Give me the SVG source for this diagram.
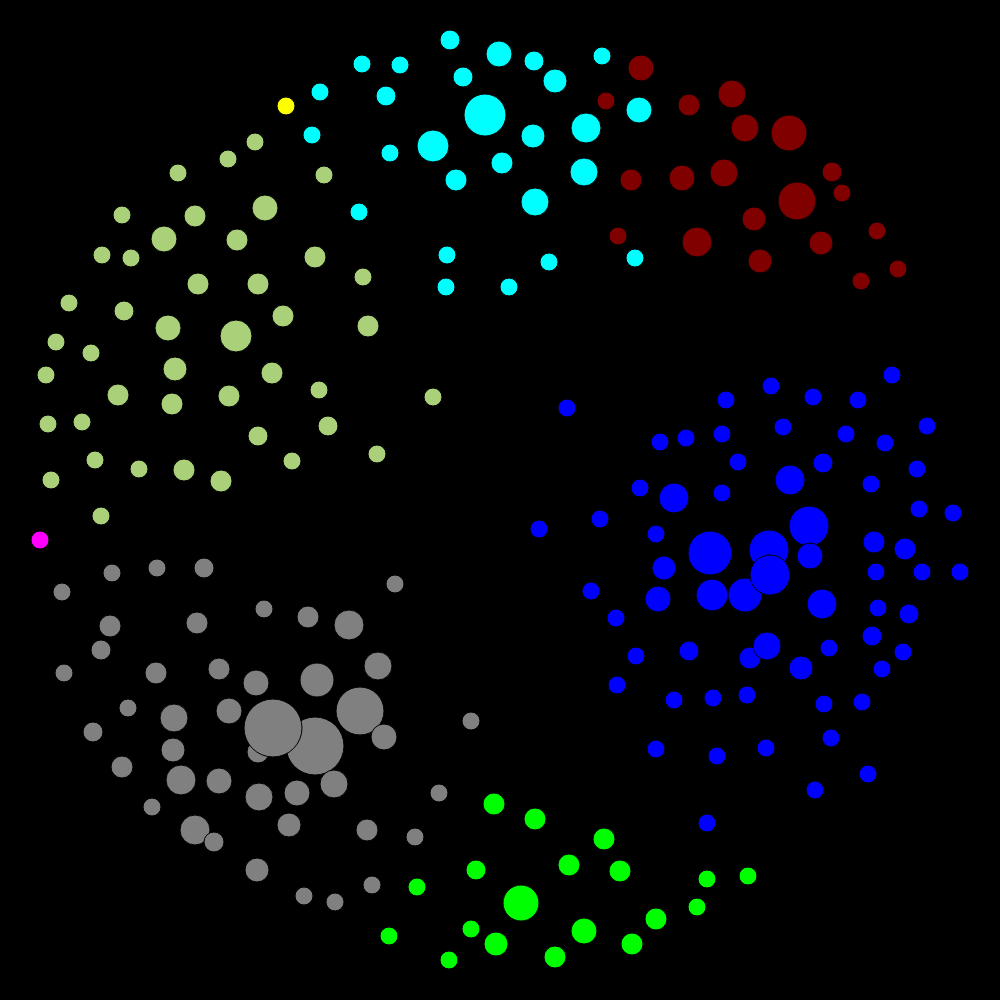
<svg xmlns="http://www.w3.org/2000/svg" width="1000" height="1000" viewBox="0 0 1000 1000">
<style>
circle{stroke:#000;stroke-width:1}
.c{fill:#00ffff}.r{fill:#800000}.y{fill:#ffff00}.l{fill:#aad07a}.m{fill:#ff00ff}.g{fill:#808080}.e{fill:#00ff00}.b{fill:#0000ff}
</style>
<rect width="1000" height="1000" fill="#000"/>
<g id="cyan">
<circle class="c" cx="450" cy="40" r="10"/><circle class="c" cx="499" cy="54" r="13"/><circle class="c" cx="534" cy="61" r="10"/><circle class="c" cx="602" cy="56" r="9"/><circle class="c" cx="362" cy="64" r="9"/><circle class="c" cx="400" cy="65" r="9"/><circle class="c" cx="463" cy="77" r="10"/><circle class="c" cx="555" cy="81" r="12"/><circle class="c" cx="320" cy="92" r="9"/><circle class="c" cx="386" cy="96" r="10"/><circle class="c" cx="485" cy="115" r="21"/><circle class="c" cx="586" cy="128" r="15"/><circle class="c" cx="639" cy="110" r="13"/><circle class="c" cx="312" cy="135" r="9"/><circle class="c" cx="433" cy="146" r="16"/><circle class="c" cx="533" cy="136" r="12"/><circle class="c" cx="390" cy="153" r="9"/><circle class="c" cx="502" cy="163" r="11"/><circle class="c" cx="584" cy="172" r="14"/><circle class="c" cx="456" cy="180" r="11"/><circle class="c" cx="535" cy="202" r="14"/><circle class="c" cx="359" cy="212" r="9"/><circle class="c" cx="447" cy="255" r="9"/><circle class="c" cx="549" cy="262" r="9"/><circle class="c" cx="635" cy="258" r="9"/><circle class="c" cx="446" cy="287" r="9"/><circle class="c" cx="509" cy="287" r="9"/>
</g>
<g id="yellow"><circle class="y" cx="286" cy="106" r="9"/></g>
<g id="darkred">
<circle class="r" cx="641" cy="68" r="13"/><circle class="r" cx="732" cy="94" r="14"/><circle class="r" cx="606" cy="101" r="9"/><circle class="r" cx="689" cy="105" r="11"/><circle class="r" cx="745" cy="128" r="14"/><circle class="r" cx="789" cy="133" r="18"/><circle class="r" cx="631" cy="180" r="11"/><circle class="r" cx="682" cy="178" r="13"/><circle class="r" cx="724" cy="173" r="14"/><circle class="r" cx="832" cy="172" r="10"/><circle class="r" cx="842" cy="193" r="9"/><circle class="r" cx="797" cy="201" r="19"/><circle class="r" cx="754" cy="219" r="12"/><circle class="r" cx="618" cy="236" r="9"/><circle class="r" cx="697" cy="242" r="15"/><circle class="r" cx="821" cy="243" r="12"/><circle class="r" cx="877" cy="231" r="9"/><circle class="r" cx="760" cy="261" r="12"/><circle class="r" cx="898" cy="269" r="9"/><circle class="r" cx="861" cy="281" r="9"/>
</g>
<g id="lightgreen">
<circle class="l" cx="255" cy="142" r="9"/><circle class="l" cx="228" cy="159" r="9"/><circle class="l" cx="178" cy="173" r="9"/><circle class="l" cx="324" cy="175" r="9"/><circle class="l" cx="265" cy="208" r="13"/><circle class="l" cx="122" cy="215" r="9"/><circle class="l" cx="195" cy="216" r="11"/><circle class="l" cx="164" cy="239" r="13"/><circle class="l" cx="237" cy="240" r="11"/><circle class="l" cx="102" cy="255" r="9"/><circle class="l" cx="131" cy="258" r="9"/><circle class="l" cx="315" cy="257" r="11"/><circle class="l" cx="363" cy="277" r="9"/><circle class="l" cx="198" cy="284" r="11"/><circle class="l" cx="258" cy="284" r="11"/><circle class="l" cx="69" cy="303" r="9"/><circle class="l" cx="124" cy="311" r="10"/><circle class="l" cx="283" cy="316" r="11"/><circle class="l" cx="168" cy="328" r="13"/><circle class="l" cx="236" cy="336" r="16"/><circle class="l" cx="368" cy="326" r="11"/><circle class="l" cx="56" cy="342" r="9"/><circle class="l" cx="91" cy="353" r="9"/><circle class="l" cx="46" cy="375" r="9"/><circle class="l" cx="175" cy="369" r="12"/><circle class="l" cx="272" cy="373" r="11"/><circle class="l" cx="118" cy="395" r="11"/><circle class="l" cx="229" cy="396" r="11"/><circle class="l" cx="319" cy="390" r="9"/><circle class="l" cx="172" cy="404" r="11"/><circle class="l" cx="433" cy="397" r="9"/><circle class="l" cx="48" cy="424" r="9"/><circle class="l" cx="82" cy="422" r="9"/><circle class="l" cx="328" cy="426" r="10"/><circle class="l" cx="258" cy="436" r="10"/><circle class="l" cx="377" cy="454" r="9"/><circle class="l" cx="95" cy="460" r="9"/><circle class="l" cx="139" cy="469" r="9"/><circle class="l" cx="184" cy="470" r="11"/><circle class="l" cx="292" cy="461" r="9"/><circle class="l" cx="221" cy="481" r="11"/><circle class="l" cx="51" cy="480" r="9"/><circle class="l" cx="101" cy="516" r="9"/>
</g>
<g id="magenta"><circle class="m" cx="40" cy="540" r="9"/></g>
<g id="gray">
<circle class="g" cx="62" cy="592" r="9"/><circle class="g" cx="112" cy="573" r="9"/><circle class="g" cx="157" cy="568" r="9"/><circle class="g" cx="204" cy="568" r="10"/><circle class="g" cx="395" cy="584" r="9"/><circle class="g" cx="110" cy="626" r="11"/><circle class="g" cx="197" cy="623" r="11"/><circle class="g" cx="264" cy="609" r="9"/><circle class="g" cx="308" cy="617" r="11"/><circle class="g" cx="349" cy="625" r="15"/><circle class="g" cx="101" cy="650" r="10"/><circle class="g" cx="64" cy="673" r="9"/><circle class="g" cx="156" cy="673" r="11"/><circle class="g" cx="219" cy="669" r="11"/><circle class="g" cx="256" cy="683" r="13"/><circle class="g" cx="317" cy="680" r="17"/><circle class="g" cx="378" cy="666" r="14"/><circle class="g" cx="128" cy="708" r="9"/><circle class="g" cx="174" cy="718" r="14"/><circle class="g" cx="229" cy="711" r="13"/><circle class="g" cx="258" cy="752" r="11"/><circle class="g" cx="315" cy="746" r="29"/><circle class="g" cx="273" cy="728" r="29"/><circle class="g" cx="360" cy="711" r="24"/><circle class="g" cx="384" cy="737" r="13"/><circle class="g" cx="471" cy="721" r="9"/><circle class="g" cx="93" cy="732" r="10"/><circle class="g" cx="173" cy="750" r="12"/><circle class="g" cx="122" cy="767" r="11"/><circle class="g" cx="181" cy="780" r="15"/><circle class="g" cx="219" cy="781" r="13"/><circle class="g" cx="259" cy="797" r="14"/><circle class="g" cx="297" cy="793" r="13"/><circle class="g" cx="334" cy="784" r="14"/><circle class="g" cx="439" cy="793" r="9"/><circle class="g" cx="152" cy="807" r="9"/><circle class="g" cx="195" cy="830" r="15"/><circle class="g" cx="214" cy="842" r="10"/><circle class="g" cx="289" cy="825" r="12"/><circle class="g" cx="367" cy="830" r="11"/><circle class="g" cx="415" cy="837" r="9"/><circle class="g" cx="257" cy="870" r="12"/><circle class="g" cx="304" cy="896" r="9"/><circle class="g" cx="335" cy="902" r="9"/><circle class="g" cx="372" cy="885" r="9"/>
</g>
<g id="green">
<circle class="e" cx="494" cy="804" r="11"/><circle class="e" cx="535" cy="819" r="11"/><circle class="e" cx="604" cy="839" r="11"/><circle class="e" cx="476" cy="870" r="10"/><circle class="e" cx="569" cy="865" r="11"/><circle class="e" cx="620" cy="871" r="11"/><circle class="e" cx="417" cy="887" r="9"/><circle class="e" cx="521" cy="903" r="18"/><circle class="e" cx="707" cy="879" r="9"/><circle class="e" cx="748" cy="876" r="9"/><circle class="e" cx="697" cy="907" r="9"/><circle class="e" cx="656" cy="919" r="11"/><circle class="e" cx="389" cy="936" r="9"/><circle class="e" cx="471" cy="929" r="9"/><circle class="e" cx="496" cy="944" r="12"/><circle class="e" cx="584" cy="931" r="13"/><circle class="e" cx="632" cy="944" r="11"/><circle class="e" cx="449" cy="960" r="9"/><circle class="e" cx="555" cy="957" r="11"/>
</g>
<g id="blue">
<circle class="b" cx="567" cy="408" r="9"/><circle class="b" cx="726" cy="400" r="9"/><circle class="b" cx="771" cy="386" r="9"/><circle class="b" cx="813" cy="397" r="9"/><circle class="b" cx="858" cy="400" r="9"/><circle class="b" cx="892" cy="375" r="9"/><circle class="b" cx="660" cy="442" r="9"/><circle class="b" cx="686" cy="438" r="9"/><circle class="b" cx="722" cy="434" r="9"/><circle class="b" cx="783" cy="427" r="9"/><circle class="b" cx="846" cy="434" r="9"/><circle class="b" cx="885" cy="443" r="9"/><circle class="b" cx="927" cy="426" r="9"/><circle class="b" cx="738" cy="462" r="9"/><circle class="b" cx="823" cy="463" r="10"/><circle class="b" cx="790" cy="480" r="15"/><circle class="b" cx="917" cy="469" r="9"/><circle class="b" cx="640" cy="488" r="9"/><circle class="b" cx="674" cy="498" r="15"/><circle class="b" cx="722" cy="493" r="9"/><circle class="b" cx="871" cy="484" r="9"/><circle class="b" cx="919" cy="509" r="9"/><circle class="b" cx="953" cy="513" r="9"/><circle class="b" cx="539" cy="529" r="9"/><circle class="b" cx="600" cy="519" r="9"/><circle class="b" cx="809" cy="526" r="20"/><circle class="b" cx="656" cy="534" r="9"/><circle class="b" cx="710" cy="553" r="22"/><circle class="b" cx="769" cy="550" r="20"/><circle class="b" cx="810" cy="556" r="13"/><circle class="b" cx="874" cy="542" r="11"/><circle class="b" cx="905" cy="549" r="11"/><circle class="b" cx="664" cy="568" r="12"/><circle class="b" cx="876" cy="572" r="9"/><circle class="b" cx="922" cy="572" r="9"/><circle class="b" cx="960" cy="572" r="9"/><circle class="b" cx="591" cy="591" r="9"/><circle class="b" cx="658" cy="599" r="13"/><circle class="b" cx="712" cy="595" r="16"/><circle class="b" cx="745" cy="595" r="17"/><circle class="b" cx="770" cy="575" r="20"/><circle class="b" cx="822" cy="604" r="15"/><circle class="b" cx="878" cy="608" r="9"/><circle class="b" cx="909" cy="614" r="10"/><circle class="b" cx="616" cy="618" r="9"/><circle class="b" cx="750" cy="658" r="11"/><circle class="b" cx="767" cy="646" r="14"/><circle class="b" cx="636" cy="656" r="9"/><circle class="b" cx="689" cy="651" r="10"/><circle class="b" cx="829" cy="648" r="9"/><circle class="b" cx="872" cy="636" r="10"/><circle class="b" cx="903" cy="652" r="9"/><circle class="b" cx="801" cy="668" r="12"/><circle class="b" cx="882" cy="669" r="9"/><circle class="b" cx="617" cy="685" r="9"/><circle class="b" cx="674" cy="700" r="9"/><circle class="b" cx="713" cy="698" r="9"/><circle class="b" cx="747" cy="695" r="9"/><circle class="b" cx="824" cy="704" r="9"/><circle class="b" cx="862" cy="702" r="9"/><circle class="b" cx="831" cy="738" r="9"/><circle class="b" cx="656" cy="749" r="9"/><circle class="b" cx="717" cy="756" r="9"/><circle class="b" cx="766" cy="748" r="9"/><circle class="b" cx="868" cy="774" r="9"/><circle class="b" cx="815" cy="790" r="9"/><circle class="b" cx="707" cy="823" r="9"/>
</g>
</svg>
